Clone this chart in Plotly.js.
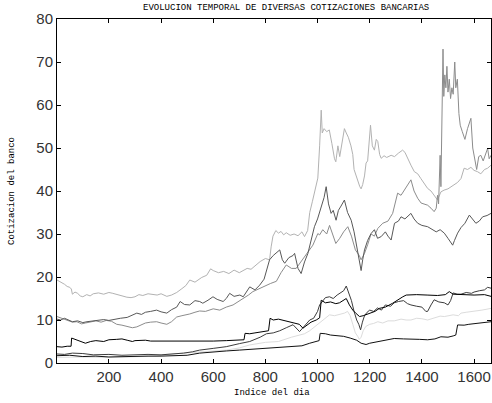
<!DOCTYPE html>
<html><head><meta charset="utf-8">
<script src="https://cdn.plot.ly/plotly-3.0.1.min.js"></script>
<style>html,body{margin:0;padding:0;background:#fff}#chart{width:492px;height:403px}</style>
</head><body><div id="chart"></div>
<script>
// Series A (light gray)
const xA = [1,10,20,30,40,50,56,60,70,80,90,100,115,128,140,160,180,200,215,230,250,269,285,300,315,330,350,370,385,400,422,440,460,480,495,510,530,556,575,590,600,620,640,660,680,700,714,730,745,760,780,800,816,822,829,840,850,860,870,880,895,910,925,940,950,962,970,980,990,1001,1008,1014,1018,1025,1035,1045,1055,1065,1070,1078,1085,1095,1103,1110,1118,1128,1135,1140,1148,1155,1162,1167,1173,1180,1186,1192,1198,1203,1210,1218,1225,1231,1238,1244,1255,1265,1282,1295,1310,1326,1335,1345,1358,1371,1384,1396,1410,1422,1435,1447,1460,1473,1485,1500,1512,1524,1537,1550,1556,1562,1575,1588,1600,1613,1626,1640,1652,1665];
const yA = [19.3,19.0,18.6,18.3,17.8,17.6,17.2,16.0,16.5,16.2,15.6,15.4,15.9,15.6,16.1,16.3,16.0,16.4,16.2,15.9,15.6,15.3,15.2,15.4,15.9,15.7,16.1,16.0,15.8,16.1,15.5,15.8,16.4,17.3,18.0,19.3,18.8,19.9,20.4,21.9,21.5,21.0,21.3,20.8,21.6,21.0,21.4,22.0,21.8,22.6,23.6,24.3,24.0,27.0,29.5,30.8,30.2,30.6,29.8,30.3,29.7,30.0,29.6,30.5,29.4,30.8,35.0,37.5,40.0,43.0,50.5,58.8,53.5,54.5,53.8,54.2,51.0,47.5,46.8,50.5,48.0,52.0,54.5,53.5,52.5,50.5,48.5,45.0,43.5,42.0,41.0,40.5,41.5,43.5,46.5,47.0,52.0,55.3,50.5,49.5,52.0,51.5,48.5,47.6,48.2,47.8,48.3,48.0,48.8,49.5,49.0,47.6,46.0,44.5,44.0,42.9,41.8,40.6,40.0,39.0,37.9,39.8,40.2,40.5,41.0,41.4,42.0,42.9,44.0,45.3,45.0,45.5,44.8,44.5,44.0,45.0,45.3,46.0];
// Series B (mid gray)
const xB = [1,15,30,45,60,77,95,110,130,150,170,190,210,230,250,270,290,307,320,340,360,383,400,422,440,460,480,500,510,530,548,570,600,625,650,676,695,715,735,752,778,804,820,842,860,880,900,918,930,944,960,982,1001,1008,1020,1035,1046,1060,1070,1085,1100,1116,1130,1145,1160,1167,1180,1192,1205,1218,1231,1250,1270,1288,1295,1307,1320,1335,1358,1370,1384,1397,1410,1422,1435,1447,1455,1460,1464,1468,1470,1473,1477,1481,1484,1488,1492,1496,1500,1505,1510,1515,1520,1526,1530,1536,1542,1547,1555,1565,1575,1588,1595,1601,1610,1618,1626,1635,1645,1652,1658,1665];
const yB = [10.8,10.5,10.2,9.8,9.5,9.6,9.1,9.3,9.6,9.8,9.5,9.9,9.7,9.0,8.8,8.5,8.2,8.4,8.8,9.3,9.5,9.6,9.3,9.0,9.6,10.7,11.0,11.2,11.4,11.8,12.1,12.0,12.6,12.3,13.0,13.5,14.2,15.0,15.8,16.6,17.4,18.1,18.5,19.0,21.0,22.8,22.0,22.0,23.0,24.0,25.5,27.4,30.1,29.8,31.0,30.0,32.0,29.5,27.8,29.0,30.5,31.7,29.5,26.3,25.0,24.0,25.5,27.5,30.0,29.5,31.3,32.5,33.0,34.8,36.4,39.5,39.0,40.5,42.6,40.0,38.3,37.2,37.0,36.7,36.0,35.2,36.0,39.0,37.0,45.0,48.3,41.0,56.0,73.0,62.0,67.0,64.0,69.0,63.0,66.0,61.5,64.0,62.5,70.0,64.0,66.0,58.0,55.3,53.8,52.0,54.5,56.9,50.0,47.6,45.0,48.0,48.3,47.0,49.0,49.9,47.5,48.3];
// Series C (dark gray)
const xC = [1,15,30,45,60,80,100,116,140,160,180,200,220,244,270,290,307,325,340,360,383,400,422,440,460,473,490,510,530,548,560,580,599,615,638,650,663,680,702,715,728,740,760,778,795,804,816,830,848,855,865,874,890,906,912,925,937,950,963,970,980,988,1000,1014,1025,1033,1042,1052,1060,1071,1080,1090,1103,1115,1129,1140,1148,1155,1162,1167,1173,1180,1192,1205,1218,1230,1244,1260,1270,1282,1295,1310,1320,1335,1358,1370,1384,1400,1422,1440,1455,1470,1486,1500,1510,1518,1525,1537,1550,1565,1582,1595,1607,1620,1633,1650,1665];
const yC = [10.2,10.0,10.4,9.9,9.6,9.8,9.4,9.6,9.8,9.9,10.1,9.9,10.2,10.4,10.6,11.2,11.6,11.3,11.8,12.0,12.3,11.9,11.6,12.4,13.0,14.3,13.6,13.5,14.5,14.3,13.9,14.6,15.4,14.8,14.3,15.0,16.2,15.5,15.8,15.4,16.5,17.7,17.0,18.1,19.5,21.2,24.0,25.0,25.9,26.3,24.0,23.2,24.5,25.0,25.5,22.0,20.8,23.5,25.5,27.4,30.0,31.7,33.5,36.3,38.5,41.0,37.0,34.8,35.5,33.2,35.5,36.5,37.9,35.0,33.2,30.5,27.8,25.0,22.5,21.5,24.0,26.3,28.5,30.1,31.0,29.0,29.4,30.5,29.5,28.6,32.5,33.0,34.0,33.5,34.8,33.5,32.5,32.0,31.7,31.0,30.5,31.0,30.2,29.0,28.0,27.4,28.5,30.2,31.5,32.5,34.4,33.5,32.5,33.0,34.0,34.3,34.8];
// Series D (black, upper)
const xD = [1,20,40,55,57,65,80,95,110,130,150,180,200,230,250,270,290,300,340,360,400,450,500,550,600,650,700,718,722,740,760,790,812,818,830,850,870,890,910,930,944,960,975,995,1008,1014,1030,1050,1070,1084,1100,1110,1122,1135,1148,1161,1175,1185,1200,1220,1237,1260,1288,1310,1327,1340,1380,1420,1460,1490,1505,1520,1560,1600,1640,1665];
const yD = [3.8,3.7,3.9,3.9,5.8,5.6,5.2,4.8,4.6,5.0,5.2,5.0,5.4,5.5,5.6,5.3,5.0,5.2,5.3,5.1,5.1,5.0,5.1,5.1,5.1,5.2,5.3,5.4,6.9,6.8,7.0,7.2,7.5,10.4,10.0,10.2,9.9,9.6,9.2,9.0,8.1,8.8,9.5,10.0,10.5,14.6,14.0,14.2,13.8,14.0,14.6,15.0,13.5,12.3,11.5,10.8,11.0,11.2,11.5,12.0,12.7,13.0,13.9,14.8,15.4,15.8,15.9,15.8,15.7,15.9,16.6,16.0,15.9,15.8,15.9,15.5];
// Series E (dark gray, lower)
const xE = [1,30,60,100,140,200,250,300,350,400,450,486,520,548,600,650,700,740,780,804,830,855,880,906,931,950,970,985,1000,1008,1020,1030,1046,1060,1075,1090,1100,1110,1118,1130,1140,1150,1158,1165,1172,1180,1190,1200,1215,1230,1245,1260,1280,1294,1310,1330,1345,1358,1380,1400,1415,1422,1435,1447,1465,1486,1500,1510,1520,1535,1550,1570,1590,1600,1620,1640,1652,1665];
const yE = [2.1,2.0,2.3,2.2,1.9,2.0,1.8,1.9,2.0,1.9,2.1,2.3,2.6,3.0,3.4,3.8,4.5,5.0,6.0,6.8,7.0,7.5,8.2,8.9,7.3,8.5,10.0,10.4,12.0,13.5,14.5,15.2,15.4,15.0,15.8,16.3,16.8,17.9,16.5,14.5,12.0,10.0,9.0,7.7,9.5,11.0,11.8,12.3,12.0,12.8,12.3,13.5,13.2,14.0,14.3,14.5,13.8,13.5,13.2,13.0,12.0,12.0,13.5,14.7,14.2,14.0,13.5,14.5,16.3,16.0,16.0,16.4,16.2,16.5,16.8,17.0,17.6,17.4];
// Series F (very light gray)
const xF = [1,100,200,300,383,420,480,550,600,650,700,740,800,850,900,931,950,970,985,1000,1020,1046,1065,1084,1103,1115,1125,1135,1145,1154,1160,1167,1175,1185,1200,1215,1231,1250,1270,1294,1320,1340,1358,1380,1400,1422,1450,1470,1486,1500,1520,1540,1550,1570,1600,1630,1665];
const yF = [1.3,1.4,1.3,1.4,1.6,2.0,2.3,2.5,2.8,3.0,3.5,4.2,4.8,5.0,6.0,6.5,6.8,7.5,8.2,8.9,10.0,11.2,11.0,11.3,11.6,12.0,11.0,9.0,7.0,6.2,5.5,6.0,7.5,8.5,9.0,9.2,9.6,9.3,9.8,9.8,10.2,10.0,10.0,10.4,10.3,10.0,10.5,10.9,10.8,11.0,11.2,11.0,11.6,11.8,12.0,12.3,12.7];
// Series G (black, lowest)
const xG = [1,50,100,150,200,250,300,350,400,450,500,548,600,650,700,750,800,850,906,940,970,1000,1006,1010,1030,1050,1075,1100,1125,1150,1167,1186,1200,1220,1231,1260,1294,1330,1358,1390,1422,1450,1473,1500,1520,1530,1537,1562,1580,1613,1640,1665];
const yG = [1.7,1.8,1.5,1.6,1.4,1.5,1.5,1.6,1.6,1.7,1.8,2.3,2.6,2.8,3.0,3.2,3.4,3.5,3.8,4.0,4.6,5.0,5.2,6.9,6.8,6.5,6.4,6.2,5.8,5.3,4.6,4.3,4.6,4.8,5.0,5.2,5.7,5.6,5.6,5.5,5.4,5.6,6.1,6.0,6.3,6.5,8.85,8.8,9.0,9.2,9.4,9.6];

const xTicks = [200,400,600,800,1000,1200,1400,1600];
const yTicks = [0,10,20,30,40,50,60,70,80];

function tr(x, y, color) {
  return {x: x, y: y, type: 'scatter', mode: 'lines', line: {color: color, width: 1}, hoverinfo: 'skip', showlegend: false};
}
const data = [
  tr(xF, yF, '#dcdcdc'),
  tr(xA, yA, '#b2b2b2'),
  tr(xB, yB, '#8c8c8c'),
  tr(xC, yC, '#585858'),
  tr(xE, yE, '#3c3c3c'),
  tr(xG, yG, '#111111'),
  tr(xD, yD, '#000000')
];
const tickFont = {family: 'Liberation Sans, Arial, sans-serif', size: 15, color: '#333'};
const layout = {
  width: 492, height: 403,
  margin: {l: 57, r: 1, t: 19, b: 40, pad: 0},
  paper_bgcolor: '#fff', plot_bgcolor: '#fff',
  showlegend: false,
  xaxis: {range: [1, 1665], tickvals: xTicks, ticktext: xTicks.map(String), ticks: 'inside', ticklen: 4, tickcolor: '#000',
    showline: true, linecolor: '#000', linewidth: 1, mirror: 'ticks', showgrid: false, zeroline: false, tickfont: tickFont},
  yaxis: {range: [0, 80], tickvals: yTicks, ticktext: yTicks.map(String), ticks: 'inside', ticklen: 4, tickcolor: '#000',
    showline: true, linecolor: '#000', linewidth: 1, mirror: 'ticks', showgrid: false, zeroline: false, tickfont: tickFont},
  annotations: [
    {text: 'EVOLUCION TEMPORAL DE DIVERSAS COTIZACIONES BANCARIAS', xref: 'paper', yref: 'paper', x: 0.5265, y: 1.032,
      xanchor: 'center', yanchor: 'middle', showarrow: false, font: {family: 'Liberation Mono, Courier New, monospace', size: 9, color: '#000'}},
    {text: 'Indice del dia', xref: 'paper', yref: 'paper', x: 0.4965, y: -0.087,
      xanchor: 'center', yanchor: 'middle', showarrow: false, font: {family: 'Liberation Mono, Courier New, monospace', size: 9, color: '#000'}},
    {text: 'Cotizacion del banco', xref: 'paper', yref: 'paper', x: -0.1037, y: 0.5, textangle: -90,
      xanchor: 'center', yanchor: 'middle', showarrow: false, font: {family: 'Liberation Mono, Courier New, monospace', size: 9, color: '#000'}}
  ]
};
Plotly.newPlot('chart', data, layout, {staticPlot: true, displayModeBar: false});
</script>
</body></html>
